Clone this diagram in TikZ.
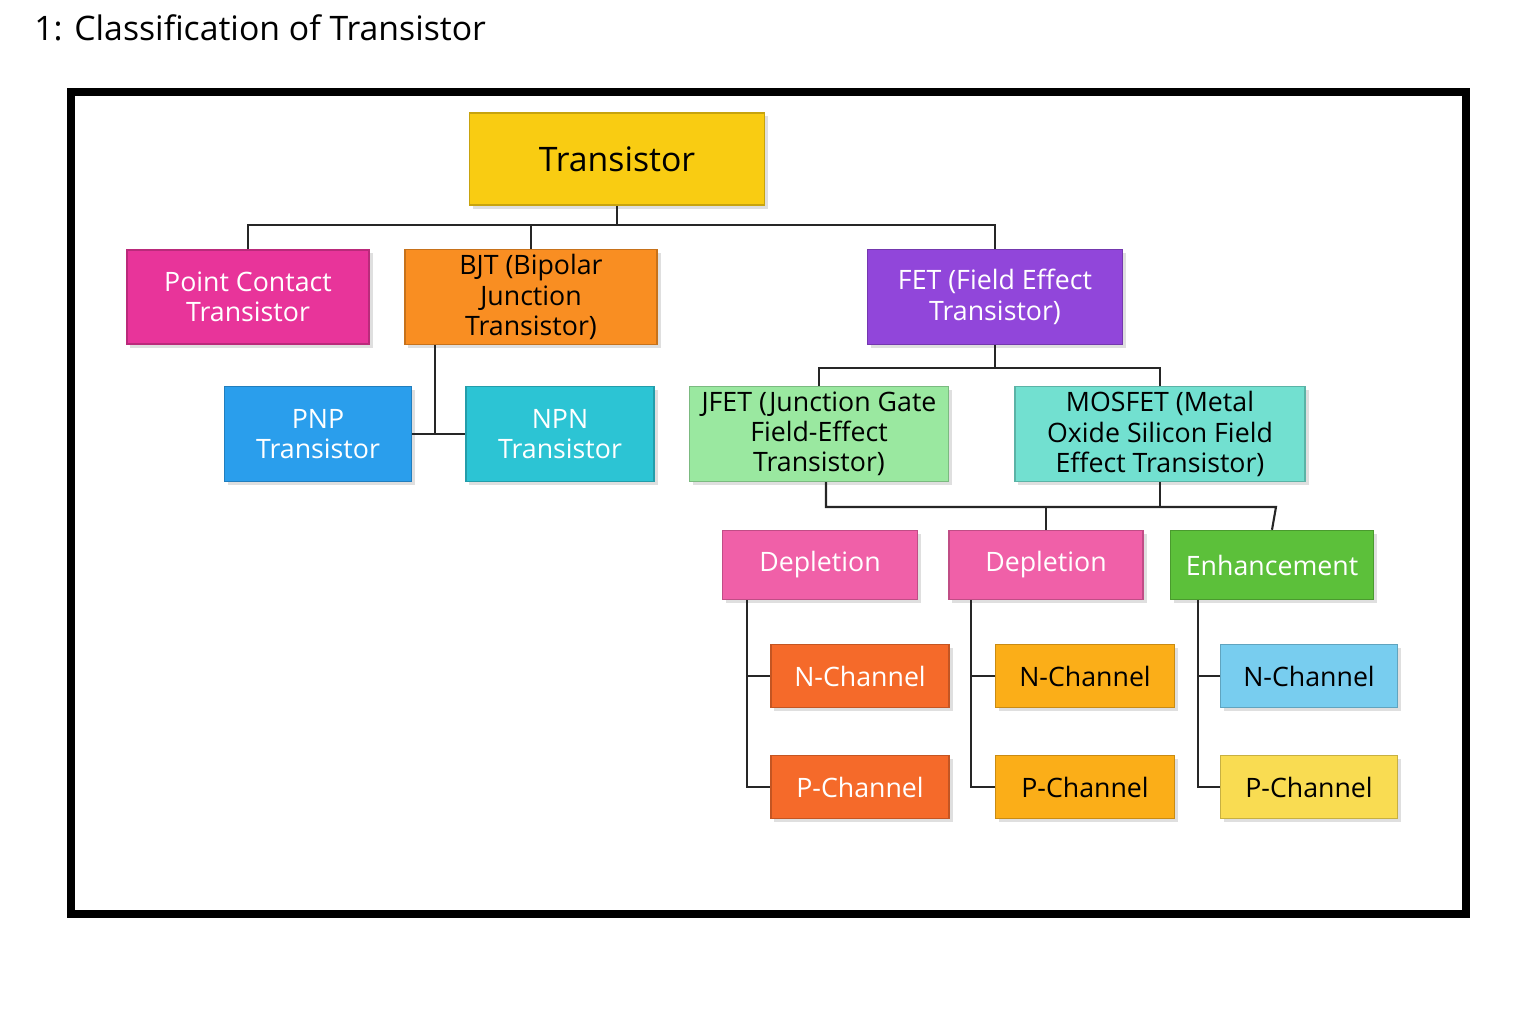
\documentclass[tikz,border=0pt]{standalone}
\usepackage{fontspec}
\setmainfont{Open Sans}
\usetikzlibrary{shadows}
\definecolor{gold}{HTML}{F9CC12}
\definecolor{magenta}{HTML}{E8349A}
\definecolor{orng}{HTML}{F98E22}
\definecolor{purp}{HTML}{9146DA}
\definecolor{pnpblue}{HTML}{2A9EEC}
\definecolor{npncyan}{HTML}{2CC4D4}
\definecolor{jfetgreen}{HTML}{9AE8A0}
\definecolor{mosaqua}{HTML}{72E0D0}
\definecolor{depink}{HTML}{F060A8}
\definecolor{enhgreen}{HTML}{5CC03A}
\definecolor{redor}{HTML}{F56A2A}
\definecolor{amber}{HTML}{FBAE18}
\definecolor{skyb}{HTML}{78CDEF}
\definecolor{lemon}{HTML}{F9DC52}
\begin{document}
\begin{tikzpicture}[x=0.01cm, y=-0.01cm,
  box/.style={rectangle, draw=#1!80!black, fill=#1, align=center,
    inner sep=1pt, font=\fontsize{7.6}{8.6}\selectfont, text=white,
    drop shadow={shadow xshift=1pt, shadow yshift=-1pt, opacity=0.25}},
  link/.style={draw=black!85, line width=0.6pt}]
	% Frame and title
	\useasboundingbox (0,0) rectangle (1536,1024);
	\node[anchor=west, font=\fontsize{9.6}{11}\selectfont] (title) at (22,28) {1: Classification of Transistor};
	\draw[line width=2.3pt] (71,92) rectangle (1466,914);
	
	% Top levels
	\node[box=gold, minimum width=2.95cm, minimum height=0.92cm, text=black, font=\fontsize{9.6}{11}\selectfont] (tr) at (617,159) {Transistor};
	\node[box=magenta, minimum width=2.42cm, minimum height=0.94cm] (pc) at (248,297) {Point Contact\\Transistor};
	\node[box=orng, minimum width=2.52cm, minimum height=0.95cm, text=black] (bjt) at (531,297) {BJT (Bipolar\\Junction\\Transistor)};
	\node[box=purp, minimum width=2.55cm, minimum height=0.95cm] (fet) at (995,297) {FET (Field Effect\\Transistor)};
	\node[box=pnpblue, minimum width=1.87cm, minimum height=0.95cm] (pnp) at (318,434) {PNP\\Transistor};
	\node[box=npncyan, minimum width=1.88cm, minimum height=0.95cm] (npn) at (560,434) {NPN\\Transistor};
	\node[box=jfetgreen, minimum width=2.59cm, minimum height=0.95cm, text=black] (jfet) at (819,434) {JFET (Junction Gate\\Field-Effect\\Transistor)};
	\node[box=mosaqua, minimum width=2.90cm, minimum height=0.95cm, text=black] (mos) at (1160,434) {MOSFET (Metal\\Oxide Silicon Field\\Effect Transistor)};
	
	% Modes
	\node[box=depink, minimum width=1.95cm, minimum height=0.69cm] (d1) at (820,565) {Depletion};
	\node[box=depink, minimum width=1.94cm, minimum height=0.69cm] (d2) at (1046,565) {Depletion};
	\node[box=enhgreen, minimum width=2.03cm, minimum height=0.69cm] (en) at (1272,565) {Enhancement};
	
	% Channels
	\node[box=redor, minimum width=1.78cm, minimum height=0.63cm] (n1) at (860,676) {N-Channel};
	\node[box=redor, minimum width=1.78cm, minimum height=0.63cm] (p1) at (860,787) {P-Channel};
	\node[box=amber, minimum width=1.79cm, minimum height=0.63cm, text=black] (n2) at (1085,676) {N-Channel};
	\node[box=amber, minimum width=1.79cm, minimum height=0.63cm, text=black] (p2) at (1085,787) {P-Channel};
	\node[box=skyb, minimum width=1.77cm, minimum height=0.63cm, text=black] (n3) at (1309,676) {N-Channel};
	\node[box=lemon, minimum width=1.77cm, minimum height=0.63cm, text=black] (p3) at (1309,787) {P-Channel};
	
	% Connectors
	\coordinate (t1) at (617,225);
	\coordinate (f1) at (995,368);
	\coordinate (b1) at (435,345);
	\coordinate (j1) at (826,482);
	\coordinate (m1) at (1276,507);
	\draw[link] (tr.south) -- (t1);
	\draw[link] (pc.north) |- (t1) -| (fet.north);
	\draw[link] (t1 -| bjt.north) -- (bjt.north);
	\draw[link] (b1) |- (pnp.east);
	\draw[link] (pnp.east) -- (npn.west);
	\draw[link] (fet.south) -- (f1);
	\draw[link] (jfet.north) |- (f1) -| (mos.north);
	\draw[link] (j1) |- (m1) -- (en.north);
	\draw[link] (mos.south) -- (mos.south |- m1);
	\draw[link] (d2.north) -- (d2.north |- m1);
	\draw[link] (d1.south -| n1.west) ++(-23,0) coordinate (c1) |- (n1.west);
	\draw[link] (c1) |- (p1.west);
	\draw[link] (d2.south -| n2.west) ++(-24,0) coordinate (c2) |- (n2.west);
	\draw[link] (c2) |- (p2.west);
	\draw[link] (en.south -| n3.west) ++(-22,0) coordinate (c3) |- (n3.west);
	\draw[link] (c3) |- (p3.west);
\end{tikzpicture}
\end{document}
